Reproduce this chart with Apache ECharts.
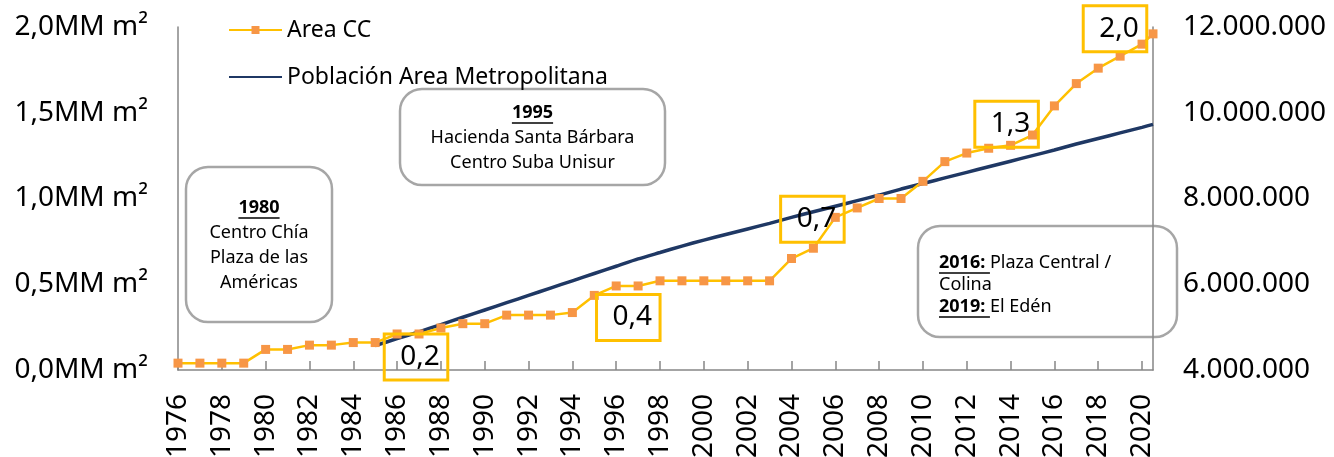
<!DOCTYPE html>
<html>
<head>
<meta charset="utf-8">
<script src="https://cdn.jsdelivr.net/npm/echarts@6/dist/echarts.min.js"></script>
<style>
  html, body { margin: 0; padding: 0; background: #ffffff; }
  #chart { width: 1334px; height: 457px; }
</style>
</head>
<body>
<div id="chart"></div>
<script>
// Years of the series (the last point is the mid-2020 figure)
const years = [
  1976, 1977, 1978, 1979, 1980, 1981, 1982, 1983, 1984, 1985,
  1986, 1987, 1988, 1989, 1990, 1991, 1992, 1993, 1994, 1995,
  1996, 1997, 1998, 1999, 2000, 2001, 2002, 2003, 2004, 2005,
  2006, 2007, 2008, 2009, 2010, 2011, 2012, 2013, 2014, 2015,
  2016, 2017, 2018, 2019, 2020, 2020.5
];

// Shopping-centre floor area, millions of m²
const areaCC = [
  0.04, 0.04, 0.04, 0.04, 0.12, 0.12, 0.145, 0.145, 0.16, 0.16,
  0.21, 0.21, 0.245, 0.27, 0.27, 0.32, 0.32, 0.32, 0.335, 0.435,
  0.49, 0.49, 0.52, 0.52, 0.52, 0.52, 0.52, 0.52, 0.65, 0.71,
  0.89, 0.945, 1.0, 1.0, 1.10, 1.215, 1.265, 1.293, 1.31, 1.37,
  1.54, 1.67, 1.76, 1.83, 1.90, 1.96
];

// Metropolitan-area population (series starts in 1985)
const poblacion = [
  null, null, null, null, null, null, null, null, null, 4570000,
  4730000, 4890000, 5060000, 5230000, 5400000, 5570000, 5740000, 5910000, 6080000, 6250000,
  6420000, 6590000, 6740000, 6890000, 7030000, 7160000, 7290000, 7420000, 7560000, 7690000,
  7820000, 7950000, 8080000, 8220000, 8350000, 8480000, 8610000, 8740000, 8870000, 9000000,
  9130000, 9270000, 9400000, 9530000, 9660000, 9730000
];

// Points whose value is written in a framed label
const labeledYears = [1987, 1995, 2005, 2014, 2020.5];

const seriesNames = ['Area CC', 'Población Area Metropolitana'];

// Label frame placement relative to its point
const labelOffsets = {
  1987: [-3, 23],
  1995: [34, 22],
  2005: [-1, -29],
  2014: [-4, -21],
  2020.5: [-38, -5]
};

const FONT = '"Noto Sans", "DejaVu Sans", sans-serif';
const AXIS_GREY = '#868686';

function fmtMM(v) {
  return v.toFixed(1).replace('.', ',') + 'MM m²';
}
function fmtThousands(v) {
  return String(Math.round(v)).replace(/\B(?=(\d{3})+(?!\d))/g, '.');
}
function fmtLabel(v) {
  return v.toFixed(1).replace('.', ',');
}

const areaData = years.map((y, i) => {
  const item = { value: [y, areaCC[i]] };
  if (labeledYears.indexOf(y) >= 0) {
    item.label = {
      show: true,
      position: 'inside',
      offset: labelOffsets[y],
      formatter: p => fmtLabel(p.value[1]),
      fontFamily: FONT,
      fontSize: 28,
      lineHeight: 30,
      color: '#000',
      borderColor: '#FFC000',
      borderWidth: 1.5,
      padding: [8, 8, 8, 16],
      backgroundColor: 'transparent'
    };
  }
  return item;
});
const popData = years.map((y, i) => [y, poblacion[i]]);

// Width measurement for underlined headings inside the note boxes
const measureCtx = document.createElement('canvas').getContext('2d');
function textWidth(txt, font) {
  measureCtx.font = font;
  return measureCtx.measureText(txt).width;
}

const NOTE_FONT = '18px ' + FONT;
const NOTE_BOLD = 'bold 18px ' + FONT;

function centredNote(x, y, w, h, title, lines) {
  const cx = w / 2;
  const children = [{
    type: 'rect',
    shape: { x: 0, y: 0, width: w, height: h, r: 22 },
    style: { fill: '#ffffff', stroke: '#A6A6A6', lineWidth: 2.5 }
  }];
  const tw = textWidth(title, NOTE_BOLD);
  children.push({
    type: 'text',
    style: { text: title, x: cx, y: lines.titleY, font: NOTE_BOLD, fill: '#000', align: 'center', verticalAlign: 'middle' }
  });
  children.push({
    type: 'line',
    shape: { x1: cx - tw / 2, y1: lines.titleY + 10, x2: cx + tw / 2, y2: lines.titleY + 10 },
    style: { stroke: '#000', lineWidth: 1.4 }
  });
  lines.rows.forEach(r => {
    children.push({
      type: 'text',
      style: { text: r[0], x: cx, y: r[1], font: NOTE_FONT, fill: '#000', align: 'center', verticalAlign: 'middle' }
    });
  });
  return { type: 'group', x: x, y: y, z: 100, children: children };
}

function leftNote(x, y, w, h, pad, rows) {
  const children = [{
    type: 'rect',
    shape: { x: 0, y: 0, width: w, height: h, r: 22 },
    style: { fill: '#ffffff', stroke: '#A6A6A6', lineWidth: 2.5 }
  }];
  rows.forEach(r => {
    let tx = pad;
    if (r.bold) {
      const bw = textWidth(r.bold, NOTE_BOLD);
      children.push({
        type: 'text',
        style: { text: r.bold, x: tx, y: r.y, font: NOTE_BOLD, fill: '#000', align: 'left', verticalAlign: 'middle' }
      });
      children.push({
        type: 'line',
        shape: { x1: tx, y1: r.y + 10, x2: tx + bw, y2: r.y + 10 },
        style: { stroke: '#000', lineWidth: 1.4 }
      });
      tx += bw;
    }
    children.push({
      type: 'text',
      style: { text: r.text, x: tx, y: r.y, font: NOTE_FONT, fill: '#000', align: 'left', verticalAlign: 'middle' }
    });
  });
  return { type: 'group', x: x, y: y, z: 100, children: children };
}

const chart = echarts.init(document.getElementById('chart'), null, { renderer: 'canvas' });

chart.setOption({
  animation: false,
  backgroundColor: '#ffffff',
  grid: { left: 178, right: 181, top: 27, bottom: 87, containLabel: false, outerBoundsMode: 'none' },
  legend: {
    data: [
      { name: seriesNames[0] },
      // plain line key, without a marker
      { name: seriesNames[1], itemStyle: { opacity: 0 } }
    ],
    orient: 'vertical',
    left: 223,
    top: 13,
    itemWidth: 53,
    itemHeight: 10,
    itemGap: 23,
    textStyle: { fontFamily: FONT, fontSize: 23, lineHeight: 24, color: '#000' }
  },
  xAxis: {
    type: 'value',
    min: 1976,
    max: 2020.5,
    interval: 2,
    axisLine: { show: true, lineStyle: { color: AXIS_GREY, width: 1.5 } },
    axisTick: { show: true, inside: true, length: 9, lineStyle: { color: AXIS_GREY, width: 1.5 } },
    splitLine: { show: false },
    axisLabel: {
      rotate: 90,
      margin: 24,
      fontFamily: FONT,
      fontSize: 28,
      color: '#000',
      showMaxLabel: false,
      formatter: v => (Number.isInteger(v) && v % 2 === 0) ? String(v) : ''
    }
  },
  yAxis: [
    {
      type: 'value',
      min: 0,
      max: 2,
      interval: 0.5,
      axisLine: { show: true, lineStyle: { color: AXIS_GREY, width: 1.5 } },
      axisTick: { show: false },
      splitLine: { show: false },
      axisLabel: { margin: 30, fontFamily: FONT, fontSize: 28, color: '#000', formatter: fmtMM }
    },
    {
      type: 'value',
      min: 4000000,
      max: 12000000,
      interval: 2000000,
      position: 'right',
      axisLine: { show: true, lineStyle: { color: AXIS_GREY, width: 1.5 } },
      axisTick: { show: false },
      splitLine: { show: false },
      axisLabel: { margin: 30, fontFamily: FONT, fontSize: 28, color: '#000', formatter: fmtThousands }
    }
  ],
  series: [
    {
      name: seriesNames[0],
      type: 'line',
      yAxisIndex: 0,
      z: 3,
      data: areaData,
      symbol: 'rect',
      symbolSize: 9,
      itemStyle: { color: '#F79646' },
      lineStyle: { color: '#FFC000', width: 2.5 },
      label: { show: false }
    },
    {
      name: seriesNames[1],
      type: 'line',
      yAxisIndex: 1,
      z: 2,
      data: popData,
      showSymbol: false,
      symbol: 'none',
      smooth: 0.2,
      connectNulls: false,
      itemStyle: { color: '#1F3864' },
      lineStyle: { color: '#1F3864', width: 3.5 }
    }
  ],
  graphic: [
    centredNote(186, 167, 146, 155, '1980', {
      titleY: 41,
      rows: [['Centro Chía', 66], ['Plaza de las', 91], ['Américas', 116]]
    }),
    centredNote(400, 89, 265, 96, '1995', {
      titleY: 24,
      rows: [['Hacienda Santa Bárbara', 49], ['Centro Suba Unisur', 74]]
    }),
    leftNote(918, 226, 259, 111, 21, [
      { bold: '2016: ', text: 'Plaza Central /', y: 37 },
      { text: 'Colina', y: 59 },
      { bold: '2019: ', text: 'El Edén', y: 81 }
    ])
  ]
});
</script>
</body>
</html>
